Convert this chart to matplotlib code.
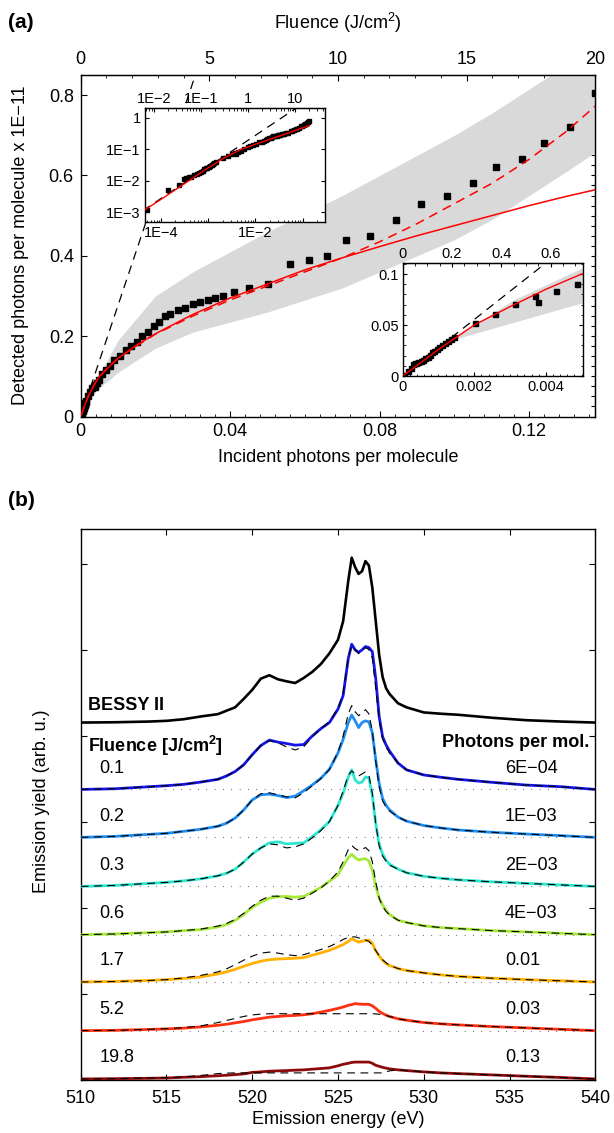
import numpy as np
import matplotlib
matplotlib.use('Agg')
import matplotlib.pyplot as plt
from matplotlib.ticker import FixedLocator, MultipleLocator, NullFormatter, FixedFormatter, LogLocator

plt.rcParams['font.family'] = ['Liberation Sans', 'DejaVu Sans']
plt.rcParams['mathtext.fontset'] = 'custom'
plt.rcParams['mathtext.rm'] = 'Liberation Sans'
plt.rcParams['mathtext.bf'] = 'Liberation Sans:bold'
plt.rcParams['mathtext.default'] = 'regular'
plt.rcParams['axes.unicode_minus'] = True

# ---------------- panel (a) data ----------------
photons = [4.9e-5, 1.4e-4, 2.4e-4, 3.0e-4, 3.3e-4, 3.8e-4, 4.3e-4, 5.0e-4, 5.6e-4, 6.2e-4,
           7.0e-4, 7.6e-4, 8.2e-4, 8.8e-4, 9.5e-4, 1.02e-3, 1.1e-3, 1.18e-3, 1.26e-3, 1.34e-3,
           1.42e-3, 2.02e-3, 2.58e-3, 3.14e-3, 3.70e-3, 3.77e-3, 4.29e-3, 4.87e-3,
           0.0058, 0.0068, 0.0078, 0.009, 0.0105, 0.012, 0.0135, 0.015, 0.0165, 0.018,
           0.0195, 0.021, 0.0225, 0.024, 0.026, 0.028, 0.030, 0.032, 0.034, 0.036, 0.038,
           0.041, 0.045, 0.050, 0.056, 0.061, 0.066, 0.071, 0.0775, 0.0845, 0.091, 0.098,
           0.105, 0.111, 0.118, 0.124, 0.131, 0.1377]
detected = [0.0012, 0.0052, 0.0075, 0.0115, 0.0125, 0.013, 0.0135, 0.0148, 0.016, 0.0175,
            0.019, 0.021, 0.0235, 0.025, 0.026, 0.028, 0.030, 0.032, 0.034, 0.036,
            0.038, 0.052, 0.061, 0.0705, 0.078, 0.0727, 0.083, 0.090,
            0.105, 0.115, 0.125, 0.14, 0.15, 0.165, 0.175, 0.185, 0.20, 0.21,
            0.225, 0.235, 0.25, 0.255, 0.265, 0.27, 0.28, 0.285, 0.29, 0.295, 0.30,
            0.31, 0.32, 0.33, 0.38, 0.39, 0.40, 0.44, 0.45, 0.49, 0.53, 0.55,
            0.58, 0.62, 0.64, 0.68, 0.72, 0.805]

fit_x = [4.5e-5, 1e-4, 2e-4, 5e-4, 1e-3, 1.5e-3, 2e-3, 3e-3, 4e-3, 5e-3, 7.5e-3, 0.01, 0.015,
         0.02, 0.03, 0.04, 0.05, 0.06, 0.07, 0.08, 0.09, 0.10, 0.11, 0.12, 0.13, 0.138]
fit_solid = [0.0012, 0.0026, 0.0052, 0.013, 0.026, 0.038, 0.050, 0.068, 0.085, 0.10, 0.123,
             0.145, 0.178, 0.206, 0.254, 0.295, 0.33, 0.365, 0.395, 0.423, 0.45, 0.475,
             0.50, 0.525, 0.548, 0.565]
fit_dashed = [0.0012, 0.0026, 0.0052, 0.013, 0.026, 0.038, 0.050, 0.068, 0.085, 0.10, 0.123,
              0.145, 0.176, 0.205, 0.25, 0.29, 0.325, 0.36, 0.395, 0.435, 0.48, 0.53,
              0.58, 0.64, 0.71, 0.775]

band_x = [0, 0.0005, 0.0014, 0.0031, 0.005, 0.01, 0.02, 0.03, 0.04, 0.05, 0.06, 0.07,
          0.08, 0.09, 0.10, 0.11, 0.12, 0.13, 0.138]
band_hi = [0, 0.013, 0.036, 0.074, 0.105, 0.19, 0.30, 0.36, 0.41, 0.46, 0.505, 0.55,
           0.60, 0.65, 0.70, 0.755, 0.815, 0.875, 0.92]
band_lo = [0, 0.012, 0.035, 0.052, 0.071, 0.11, 0.17, 0.21, 0.235, 0.26, 0.29, 0.32,
           0.36, 0.40, 0.44, 0.49, 0.55, 0.61, 0.66]

linear_x = [4e-5, 0.1]
linear_y = [0.00111, 2.77]

photons_at_20J = 0.1377     # incident photons per molecule at 20 J/cm^2

# ---------------- panel (b) data ----------------
energy = [510, 512, 514, 515, 516, 517, 518,
          518.5, 519, 519.5, 520, 520.5, 521, 521.5, 522, 522.5, 523, 523.5, 524, 524.5, 525,
          525.3, 525.6, 525.8, 526.0, 526.2, 526.4, 526.6, 526.8, 527.0, 527.2, 527.4, 527.6, 527.8, 528,
          528.5, 529, 530, 531, 532, 534, 536, 538, 540]

bessy = [0, 0.3, 1, 1.7, 3.3, 6, 8.3,
         11.7, 15, 23.3, 32.3, 43.3, 46.7, 42.7, 40.7, 39, 44, 50, 57.7, 68.3, 81.7,
         100, 140, 162.7, 153.3, 146.7, 149.3, 159.3, 155, 133.3, 100, 66.7, 45, 34, 28.3,
         19, 15, 10, 8.7, 7.7, 4.7, 2.3, 1, 0]

f01 = [0, 0.7, 2.7, 3.7, 5, 7.3, 10,
       13.3, 17.7, 24.3, 34.3, 43.3, 48.7, 46.7, 45.3, 43.7, 44.3, 52.7, 60, 66, 79.3,
       92.7, 129.3, 143.3, 137.7, 135.3, 137.7, 141, 140, 136, 109.3, 72, 52, 44, 38,
       26, 19.3, 14.3, 12, 10, 7, 4.3, 2.7, 0]
d01 = [0, 0.7, 2.7, 3.7, 5, 7.3, 10,
       13.3, 17.7, 24.3, 34.3, 43.3, 48, 46, 42, 39, 42, 52, 60, 67, 80,
       95, 130, 142, 138, 134, 137, 140, 138, 130, 100, 68, 50, 42, 36,
       26, 19.3, 14.3, 12, 10, 7, 4.3, 2.7, 0]
f02 = [0, 1, 3, 4, 6, 8, 11,
       14, 19, 27, 37, 42, 42.7, 41.3, 39.3, 40.7, 46, 51.7, 58.3, 67.3, 83.3,
       96.7, 113.3, 120.7, 115, 108.3, 113.3, 115, 114, 103.3, 76.7, 53.3, 38.3, 31.7, 27.3,
       20, 16, 11.7, 9.3, 7.3, 5, 3.3, 1.7, 0]
d02 = [0, 1, 3, 4, 6, 8, 11,
       14, 19, 27, 37, 43, 44, 42, 40, 39, 44, 51, 58, 67, 84,
       100, 122, 130, 124, 120, 123, 126, 122, 105, 75, 50, 36, 30, 26,
       20, 16, 11.7, 9.3, 7.3, 5, 3.3, 1.7, 0]
f03 = [0, 1, 3, 4, 5.5, 7.5, 10.5,
       13, 17, 24, 32, 38, 43, 44, 42, 42.5, 43, 49, 56, 64, 80,
       92, 108, 115, 105, 102, 103, 108, 107, 90, 62, 42, 32, 26, 22,
       17, 13.5, 10, 8, 6.5, 4.5, 3, 1.5, 0]
d03 = [0, 1, 3, 4, 5.5, 7.5, 10.5,
       13, 17, 24, 32, 38, 42, 41, 38, 39, 42, 48, 55, 64, 80,
       94, 110, 114, 111, 109, 111, 113, 110, 92, 62, 40, 30, 25, 21,
       17, 13.5, 10, 8, 6.5, 4.5, 3, 1.5, 0]
f06 = [0, 0.7, 2, 2.7, 4, 5, 7.7,
       10, 14, 20, 27, 32, 36, 37.5, 37.7, 37, 37.7, 42, 46.7, 52.7, 59.3,
       68, 76, 79.3, 76, 73.7, 74.5, 75, 72.7, 64, 48, 36, 29.3, 24, 20,
       14.3, 12, 8.7, 7, 6, 4, 2.7, 1.3, 0]
d06 = [0, 0.7, 2, 2.7, 4, 5.5, 8.5,
       11, 15, 21, 28, 34, 38, 38, 36, 34, 36, 41, 46, 53, 62,
       72, 84, 88, 85, 83, 84, 86, 83, 72, 52, 36, 28, 23, 19.5,
       14.3, 12, 8.7, 7, 6, 4, 2.7, 1.3, 0]
f17 = [0, 0.5, 1.5, 2.3, 3.5, 5, 8,
       10, 12.5, 15.5, 18.3, 20.5, 22, 22.7, 23, 23.5, 24, 26.5, 28.7, 31.3, 34.7,
       37, 40, 42.7, 41, 39.3, 40.3, 41, 41.3, 38, 31, 25.7, 21.3, 18.3, 16.3,
       13.3, 11.3, 9, 7, 5.5, 3.7, 2.3, 1.2, 0]
d17 = [0, 0.5, 1.5, 2.3, 4, 6.5, 10,
       13, 17, 21.5, 25.5, 28.5, 29.5, 28.5, 27, 26, 27, 29.5, 32, 35, 39,
       42, 44, 44.5, 44.5, 43.5, 42.5, 41.5, 40, 36.5, 31, 26, 22, 19, 16.5,
       13.3, 11.3, 9, 7, 5.5, 3.7, 2.3, 1.2, 0]
f52 = [0, 0.3, 1.2, 1.7, 2.5, 3.7, 5.3,
       6.3, 7.7, 9, 10.7, 12, 13.3, 14, 14.7, 15, 15.7, 16.7, 18.3, 20, 22,
       23.3, 25, 25.7, 26.7, 26.3, 26, 26, 26, 24.5, 22, 19, 17, 15.3, 14,
       11.7, 10.3, 8, 6.7, 5.7, 4, 2.7, 1.3, 0]
d52 = [0, 0.3, 1.3, 2, 3, 4.7, 8,
       10, 12, 14, 15.5, 16.3, 16.7, 16.7, 16.7, 16.7, 16.7, 16.7, 16.7, 16.7, 16.7,
       16.7, 16.7, 16.7, 16.7, 16.7, 16.7, 16.7, 16.7, 16.7, 16.5, 16.2, 15.7, 15, 14,
       11.7, 10.3, 8, 6.7, 5.7, 4, 2.7, 1.3, 0]
f198 = [0, 0.3, 0.7, 1, 1.7, 2.3, 3.2,
        3.7, 4.3, 5, 6.5, 7, 7.7, 8, 8.3, 8.7, 9, 9.7, 10.3, 11, 13,
        14.5, 15.5, 16.3, 16.7, 16.7, 16.7, 16.7, 16.7, 15.5, 13.5, 12.5, 11.5, 10.7, 10,
        9, 8.3, 7, 6, 5.3, 4, 2.7, 1.5, 0]
d198 = [0, 0.3, 1, 1.3, 2, 3.5, 5.3,
        5.8, 6, 6, 6, 6, 6, 6, 6, 6, 6, 6, 6, 6, 6,
        6, 6, 6, 6, 6, 6, 6, 6, 6, 6, 6, 6, 7, 8,
        9, 8.3, 7, 6, 5.3, 4, 2.7, 1.5, 0]

spectra = [f01, f02, f03, f06, f17, f52, f198]
models = [d01, d02, d03, d06, d17, d52, d198]
offsets = [286.7, 239.4, 191.0, 143.4, 96.7, 48.7, 1.0]
bessy_offset = 352.7
fluence_labels = ['0.1', '0.2', '0.3', '0.6', '1.7', '5.2', '19.8']
photon_labels = ['6E\u221204', '1E\u221203', '2E\u221203', '4E\u221203', '0.01', '0.03', '0.13']
colors = ['#1414e6', '#1e8cf0', '#2de6d0', '#a6e83a', '#ffb000', '#ff3010', '#8c0a0a']

# ---------------- figure ----------------
W, H = 614, 1133
fig = plt.figure(figsize=(W / 100, H / 100), dpi=100)


def rect(x0, y0, x1, y1):
    return [x0 / W, 1 - y1 / H, (x1 - x0) / W, (y1 - y0) / H]


def fxy(x, y):
    return x / W, 1 - y / H


def to_fluence(x):
    return np.asarray(x) * 20.0 / photons_at_20J


def to_photons(f):
    return np.asarray(f) * photons_at_20J / 20.0


tick_kw = dict(direction='in', which='both')
FS = 13
FSI = 10.5

# ---- main axes (a)
ax = fig.add_axes(rect(80.7, 75, 595.3, 416.5))
ax.fill_between(band_x, band_lo, band_hi, color='#d9d9d9', lw=0, zorder=1)
ax.plot(linear_x, linear_y, color='black', lw=0.9, dashes=(7, 5), zorder=2)
ax.plot(photons, detected, 's', color='black', ms=5, zorder=3)
ax.plot(fit_x, fit_dashed, color='#ff0000', lw=1.1, dashes=(6, 4), zorder=4)
ax.plot(fit_x, fit_solid, color='#ff0000', lw=1.1, zorder=5)
ax.set_xlim(0, photons_at_20J)
ax.set_ylim(0, 0.85)
ax.set_xticks([0, 0.04, 0.08, 0.12])
ax.set_xticklabels(['0', '0.04', '0.08', '0.12'])
ax.xaxis.set_minor_locator(MultipleLocator(0.004))
ax.set_yticks([0, 0.2, 0.4, 0.6, 0.8])
ax.set_yticklabels(['0', '0.2', '0.4', '0.6', '0.8'])
ax.tick_params(**tick_kw, labelsize=FS, length=4, pad=5)
ax.tick_params(which='minor', length=2.5)
ax.tick_params(axis='y', which='both', right=False)
secx = ax.secondary_xaxis('top', functions=(to_fluence, to_photons))
secx.set_xticks([0, 5, 10, 15, 20])
secx.set_xticklabels(['0', '5', '10', '15', '20'])
secx.xaxis.set_minor_locator(MultipleLocator(1))
secx.tick_params(**tick_kw, labelsize=FS, length=4, pad=5)
secx.tick_params(which='minor', length=2.5)
secy = ax.secondary_yaxis('right')
secy.set_yticks(np.arange(0, 0.851, 0.025))
secy.tick_params(direction='in', labelright=False, length=3)
ax.set_xlabel('Incident photons per molecule', fontsize=FS, labelpad=6)
fig.text(*fxy(338, 23), 'Fluence (J/cm$^2$)', fontsize=FS, ha='center', va='center')
fig.text(*fxy(21, 245), 'Detected photons per molecule x 1E\u221211', fontsize=FS,
         rotation=90, ha='center', va='center')
fig.text(*fxy(8, 22), '(a)', fontsize=15, fontweight='bold', ha='left', va='center')

# ---- inset 1 (log-log)
ai = fig.add_axes(rect(145, 108.3, 325, 221.7))
ai.set_facecolor('white')
ai.set_xscale('log')
ai.set_yscale('log')
ai.plot(linear_x, linear_y, color='black', lw=0.9, dashes=(7, 5), zorder=2)
ai.plot(photons, detected, 's', color='black', ms=3.4, zorder=3)
ai.plot(fit_x, fit_solid, color='#ff0000', lw=1.0, zorder=5)
ai.set_xlim(4.5e-5, 0.30)
ai.set_ylim(5.0e-4, 2.0)
ai.xaxis.set_major_locator(FixedLocator([1e-4, 1e-3, 1e-2, 1e-1]))
ai.xaxis.set_major_formatter(FixedFormatter(['1E\u22124', '', '1E\u22122', '']))
ai.xaxis.set_minor_locator(LogLocator(base=10, subs=np.arange(2, 10)))
ai.xaxis.set_minor_formatter(NullFormatter())
ai.yaxis.set_major_locator(FixedLocator([1e-3, 1e-2, 1e-1, 1]))
ai.yaxis.set_major_formatter(FixedFormatter(['1E\u22123', '1E\u22122', '1E\u22121', '1']))
ai.yaxis.set_minor_locator(LogLocator(base=10, subs=np.arange(2, 10)))
ai.yaxis.set_minor_formatter(NullFormatter())
ai.tick_params(**tick_kw, labelsize=FSI, length=3, pad=3, right=True)
ai.tick_params(which='minor', length=1.8)
sxi = ai.secondary_xaxis('top', functions=(to_fluence, to_photons))
sxi.xaxis.set_major_locator(FixedLocator([1e-2, 1e-1, 1, 10]))
sxi.xaxis.set_major_formatter(FixedFormatter(['1E\u22122', '1E\u22121', '1', '10']))
sxi.xaxis.set_minor_locator(LogLocator(base=10, subs=np.arange(2, 10)))
sxi.xaxis.set_minor_formatter(NullFormatter())
sxi.tick_params(**tick_kw, labelsize=FSI, length=3, pad=2)
sxi.tick_params(which='minor', length=1.8)

# ---- inset 2 (linear, low intensity)
aj = fig.add_axes(rect(402.7, 263.3, 582.7, 376))
aj.set_facecolor('white')
aj.fill_between(band_x, band_lo, band_hi, color='#d9d9d9', lw=0, zorder=1)
aj.plot(linear_x, linear_y, color='black', lw=0.9, dashes=(7, 5), zorder=2)
aj.plot(photons, detected, 's', color='black', ms=3.6, zorder=3)
aj.plot(fit_x, fit_solid, color='#ff0000', lw=1.0, zorder=5)
aj.set_xlim(0, 0.00503)
aj.set_ylim(0, 0.1105)
aj.set_xticks([0, 0.002, 0.004])
aj.set_xticklabels(['0', '0.002', '0.004'])
aj.xaxis.set_minor_locator(MultipleLocator(0.0002))
aj.set_yticks([0, 0.05, 0.1])
aj.set_yticklabels(['0', '0.05', '0.1'])
aj.yaxis.set_minor_locator(MultipleLocator(0.01))
aj.tick_params(**tick_kw, labelsize=FSI, length=3, pad=3, right=True)
aj.tick_params(which='minor', length=1.8)
sxj = aj.secondary_xaxis('top', functions=(to_fluence, to_photons))
sxj.set_xticks([0, 0.2, 0.4, 0.6])
sxj.set_xticklabels(['0', '0.2', '0.4', '0.6'])
sxj.xaxis.set_minor_locator(MultipleLocator(0.05))
sxj.tick_params(**tick_kw, labelsize=FSI, length=3, pad=2)
sxj.tick_params(which='minor', length=1.8)

# ---- panel (b)
bx = fig.add_axes(rect(80.7, 529.3, 595.3, 1080))
e = np.asarray(energy)
bx.plot(e, bessy_offset + np.asarray(bessy), color='black', lw=1.9, zorder=3)
for k in range(len(spectra)):
    base = offsets[k]
    if k < len(spectra) - 1:
        bx.plot([510, 540], [base, base], color='black', lw=0.8, ls=(0, (0.5, 7)), zorder=1)
    bx.plot(e, base + np.asarray(spectra[k]), color=colors[k], lw=2.0, zorder=3)
    bx.plot(e, base + np.asarray(models[k]), color='black', lw=0.8, dashes=(7, 5), zorder=4)
    bx.text(511.1, base + 21, fluence_labels[k], fontsize=FS, ha='left', va='center')
    bx.text(534.74, base + 21, photon_labels[k], fontsize=FS, ha='left', va='center')
bx.text(510.43, 370, 'BESSY II', fontsize=FS, fontweight='bold', ha='left', va='center')
bx.text(510.43, 329.7, r'Fluence [J/cm$\mathbf{^2}$]', fontsize=FS, fontweight='bold',
        ha='left', va='center')
bx.text(539.63, 332.7, 'Photons per mol.', fontsize=FS, fontweight='bold', ha='right', va='center')
bx.set_xlim(510, 540)
bx.set_ylim(0, 543.4)
bx.set_xticks([510, 515, 520, 525, 530, 535, 540])
bx.set_yticks(np.arange(0, 7) * 84.8)
bx.set_yticklabels([])
bx.tick_params(direction='in', labelsize=FS, length=4, pad=7, top=True, right=True)
bx.set_xlabel('Emission energy (eV)', fontsize=FS, labelpad=3)
fig.text(*fxy(42, 801), 'Emission yield (arb. u.)', fontsize=FS, rotation=90,
         ha='center', va='center')
fig.text(*fxy(8, 500), '(b)', fontsize=15, fontweight='bold', ha='left', va='center')

for a in (ax, ai, aj, bx):
    for s in a.spines.values():
        s.set_linewidth(1.0)

fig.savefig('out.png', dpi=100)
